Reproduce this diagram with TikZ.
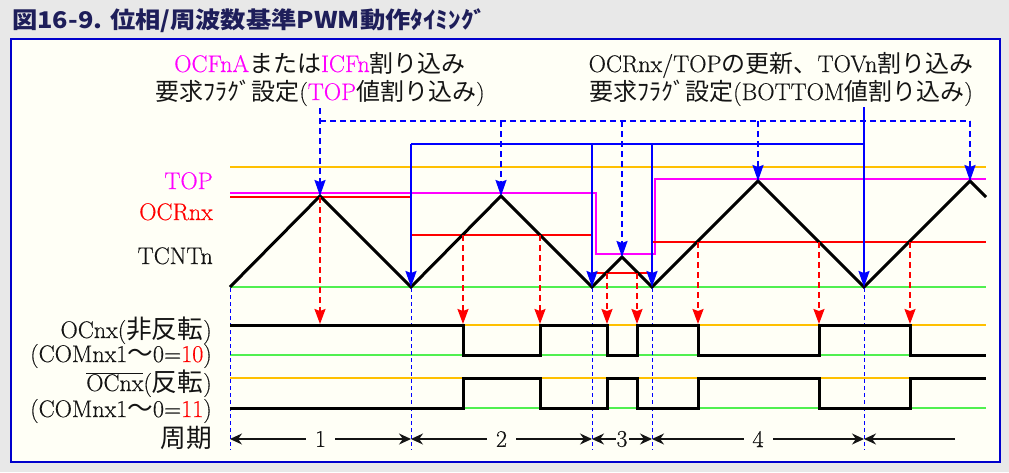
\documentclass[tikz,border=0pt]{standalone}
\usepackage{fontspec}
\usepackage{xcolor}
\setmainfont{Latin Modern Roman}[FakeBold=0.35]
\newfontfamily\jpfont{Noto Sans CJK JP}
\newfontfamily\jpwide{Noto Sans CJK JP}[Scale=1.07]
\newfontfamily\jptitle{Noto Sans CJK JP}[FakeStretch=1.1]
\newcommand{\jtxt}[1]{{\jpfont #1}}
\newcommand{\jwtxt}[1]{{\jpwide #1}}
\definecolor{tmblue}{RGB}{0,0,255}
\definecolor{tmred}{RGB}{255,0,0}
\definecolor{tmmagenta}{RGB}{255,0,255}
\definecolor{tmorange}{RGB}{255,192,0}
\definecolor{tmgreen}{RGB}{80,240,80}
\definecolor{tmnavy}{RGB}{30,30,90}
\definecolor{tmframe}{RGB}{0,0,204}
\definecolor{tmivory}{RGB}{255,255,246}
\definecolor{tmgray}{RGB}{232,232,232}
\definecolor{tmtext}{RGB}{20,20,20}
\usetikzlibrary{arrows.meta,positioning}

\begin{document}
\begin{tikzpicture}[x=1pt, y=-1pt,
    lbl/.style={font=\fontsize{24}{28}\selectfont, text=tmtext, inner sep=0pt},
    side/.style={lbl, anchor=base east},
    top/.style={lbl, anchor=base},
    refline/.style={line width=1.2pt},
    level/.style={line width=1.6pt},
    cnt/.style={line width=3pt, line join=miter},
    wave/.style={line width=3pt, line join=miter},
    updline/.style={tmblue, line width=1.8pt},
    upd/.style={updline, -{Stealth[length=16pt, width=11pt, inset=2pt]}},
    topline/.style={updline, dash pattern=on 6pt off 4pt},
    topev/.style={topline, -{Stealth[length=16pt, width=11pt, inset=2pt]}},
    cmp/.style={tmred, line width=1.8pt, dash pattern=on 6pt off 4pt,
      -{Stealth[length=15pt, width=11pt, inset=2pt]}},
    bound/.style={tmblue, line width=0.9pt, dash pattern=on 4pt off 3pt},
    per/.style={tmtext, line width=1.2pt,
      {Stealth[length=12pt, width=11pt]}-{Stealth[length=12pt, width=11pt]}},
    pnum/.style={lbl, fill=tmivory, inner xsep=9pt}
  ]
    % Background and frame
    \fill[tmgray] (0,0) rectangle (1009,472);
    \useasboundingbox (0,0) rectangle (1009,472);
    \draw[tmframe, line width=2pt, fill=tmivory] (11,39) rectangle (1000,462);
    \node[font=\jptitle\bfseries\fontsize{23}{23}\selectfont, text=tmnavy,
      anchor=base west, inner sep=0pt] (title) at (12,28)
      {図16-9. 位相/周波数基準PWM動作ﾀｲﾐﾝｸﾞ};

    % Reference levels
    \foreach \y/\c in {167/tmorange, 287/tmgreen, 325/tmorange,
                       355/tmgreen, 378/tmorange, 408/tmgreen}
      \draw[refline, \c] (230,\y) -- (986,\y);

    % TOP and OCRnx
    \draw[level, tmmagenta] (230,193) -- (596,193) -- (596,254)
      -- (655,254) -- (655,179) -- (986,179);
    \draw[level, tmred] (230,197) -- (411,197) -- (411,235) -- (592,235)
      -- (592,273) -- (652,273) -- (652,242) -- (986,242);

    % TCNTn
    \coordinate (b0) at (230,287);
    \coordinate (p1) at (320,196);
    \coordinate (b1) at (411,287);
    \coordinate (p2) at (501,196);
    \coordinate (b2) at (592,287);
    \coordinate (p3) at (622,257);
    \coordinate (b3) at (652,287);
    \coordinate (p4) at (758,181);
    \coordinate (b4) at (864,287);
    \coordinate (p5) at (970,181);
    \coordinate (e5) at (986,197);
    \draw[cnt] (b0) -- (p1) -- (b1) -- (p2) -- (b2) -- (p3) -- (b3)
      -- (p4) -- (b4) -- (p5) -- (e5);

    % BOTTOM events
    \coordinate (ubot) at (864,107);
    \draw[updline] (411,144) -- (864,144);
    \draw[upd] (ubot) -- (b4);
    \foreach \b/\x in {b1/411, b2/592, b3/652}
      \draw[upd] (\x,144) -- (\b);

    % TOP events
    \coordinate (utop) at (320,108);
    \draw[topev] (utop) -- (p1);
    \draw[topline] (320,121) -- (970,121);
    \foreach \p/\x in {p2/501, p3/622, p4/758, p5/970}
      \draw[topev] (\x,121) -- (\p);

    % Compare matches
    \foreach \x/\y in {320/197, 463/235, 540/235, 607/273,
                       637/273, 698/242, 819/242, 910/242}
      \draw[cmp] (\x,\y) -- (\x,324);

    % Period boundaries
    \foreach \x in {230,411,592,652,864}
      \draw[bound] (\x,288) -- (\x,450);

    % Outputs
    \draw[wave] (230,325) -| (463,355) -| (540,325) -| (607,355) -| (637,325)
      -| (698,355) -| (819,325) -| (910,355) -- (986,355);
    \draw[wave] (230,408) -| (463,378) -| (540,408) -| (607,378) -| (637,408)
      -| (698,378) -| (819,408) -| (910,378) -- (986,378);

    % Periods
    \draw[per] (230,439) -- node[pnum] (n1) {1} (411,439);
    \draw[per] (411,439) -- node[pnum] (n2) {2} (592,439);
    \draw[per] (592,439) -- node[pnum, inner xsep=1pt] (n3) {3} (652,439);
    \draw[per] (652,439) -- node[pnum] (n4) {4} (864,439);
    \draw[tmtext, line width=1.2pt, -{Stealth[length=12pt, width=11pt]}]
      (955,439) -- (864,439);

    % Left labels
    \node[side, text=tmmagenta] (ltop) at (213,189) {TOP};
    \node[side, text=tmred] (locr) at (213,220) {OCRnx};
    \node[side] (lcnt) at (213,264) {TCNTn};
    \node[side] (loc) at (212,338) {OCnx(\jwtxt{非反転})};
    \node[side] (lcom) at (212,362) {(COMnx1\jwtxt{～}0=\textcolor{tmred}{10})};
    \node[side] (locb) at (212,391) {$\overline{\mbox{OCnx}}$(\jwtxt{反転})};
    \node[side] (lcomb) at (212,417) {(COMnx1\jwtxt{～}0=\textcolor{tmred}{11})};
    \node[side] (lper) at (212,447) {\jwtxt{周期}};

    % Top labels
    \node[top] (lint1) at (320,72) {\textcolor{tmmagenta}{OCFnA}\jtxt{または}%
      \textcolor{tmmagenta}{ICFn}\jtxt{割り込み}};
    \node[top] (lint2) at (320,100) {\jtxt{要求ﾌﾗｸﾞ設定}(\textcolor{tmmagenta}{TOP}%
      \jtxt{値割り込み})};
    \node[top] (lupd1) at (781,72) {OCRnx/TOP\jtxt{の更新、}TOVn\jtxt{割り込み}};
    \node[top] (lupd2) at (781,100) {\jtxt{要求ﾌﾗｸﾞ設定}(BOTTOM\jtxt{値割り込み})};
\end{tikzpicture}
\end{document}
